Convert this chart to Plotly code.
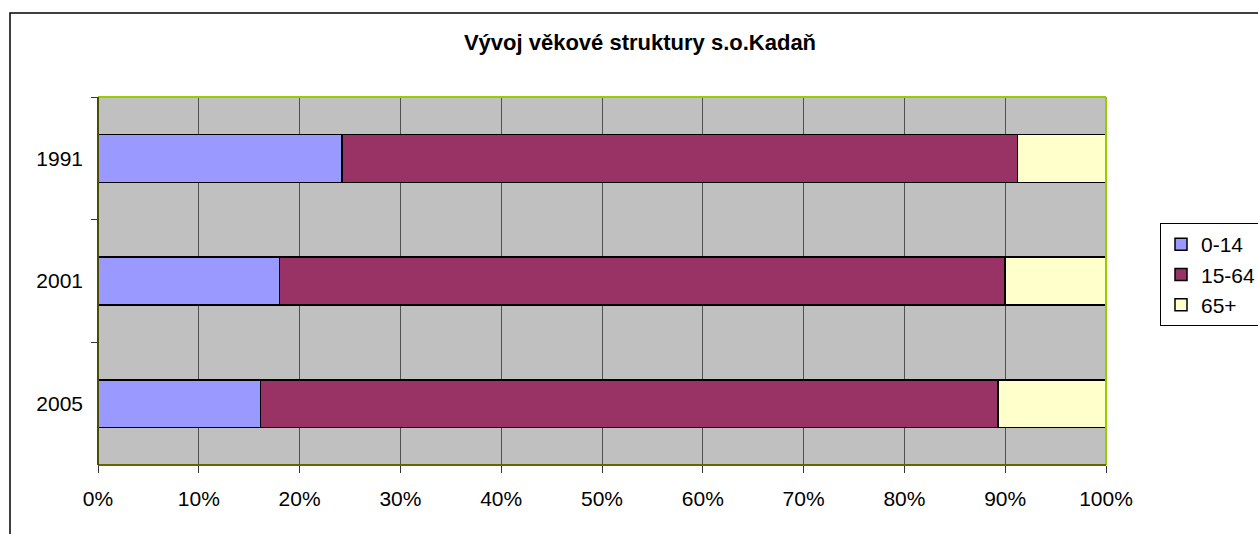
import plotly.graph_objects as go

years = ["1991", "2001", "2005"]
series_names = ["0-14", "15-64", "65+"]
v_0_14 = [24.2, 18.0, 16.1]
v_15_64 = [67.0, 72.0, 73.2]
v_65 = [8.8, 10.0, 10.7]
colors = ["#9999FF", "#993366", "#FFFFCC"]
x_ticks = [0, 10, 20, 30, 40, 50, 60, 70, 80, 90, 100]

FONT = "Liberation Sans, Arial, sans-serif"

fig = go.Figure()
for i, (name, vals) in enumerate(zip(series_names, [v_0_14, v_15_64, v_65])):
    fig.add_trace(go.Bar(
        y=years, x=vals, name=name, orientation="h",
        marker=dict(color=colors[i], line=dict(color="#000000", width=1.5)),
        legendgroup=name, hoverinfo="x+name",
    ))

W, H = 1258, 534
L, R, T, B = 98, 1106, 97, 465
pw, ph = R - L, B - T

def px_x(x):
    return (x - L) / pw

def px_y(y):
    return 1 - (y - T) / ph

fig.update_layout(
    width=W, height=H,
    margin=dict(l=L, r=W - R, t=T, b=H - B, pad=0, autoexpand=False),
    paper_bgcolor="#FFFFFF",
    plot_bgcolor="#C0C0C0",
    barmode="stack",
    bargap=0.61,
    font=dict(family=FONT, size=21, color="#000000"),
    title=dict(
        text="<b>Vývoj věkové struktury s.o.Kadaň</b>",
        x=640 / W, xref="container", xanchor="center",
        y=1 - 42 / H, yref="container", yanchor="middle",
        font=dict(family=FONT, size=22, color="#000000"),
    ),
    xaxis=dict(
        range=[0, 100], tickvals=x_ticks,
        ticktext=[f"{t}%" for t in x_ticks],
        showgrid=True, gridcolor="#505050", gridwidth=1,
        ticks="outside", ticklen=7, tickcolor="#333333",
        showline=False, zeroline=False,
        tickfont=dict(size=21),
        ticklabelstandoff=8,
    ),
    yaxis=dict(
        categoryorder="array", categoryarray=years, autorange="reversed",
        tickson="boundaries", ticks="outside", ticklen=6, tickcolor="#333333",
        showgrid=False, showline=False, zeroline=False,
        tickfont=dict(size=21),
        ticklabelstandoff=14,
    ),
    legend=dict(
        x=px_x(1160), y=px_y(223), xanchor="left", yanchor="top",
        bordercolor="#000000", borderwidth=1, bgcolor="#FFFFFF",
        traceorder="normal", tracegroupgap=24,
        font=dict(size=21),
    ),
    showlegend=True,
)

# plot area border (Excel style)
fig.add_shape(type="line", xref="paper", yref="paper", x0=0, x1=1, y0=1, y1=1,
              line=dict(color="#99CC00", width=2), layer="above")
fig.add_shape(type="line", xref="paper", yref="paper", x0=1, x1=1, y0=0, y1=1,
              line=dict(color="#99CC00", width=2), layer="above")
fig.add_shape(type="line", xref="paper", yref="paper", x0=0, x1=1, y0=0, y1=0,
              line=dict(color="#666600", width=2), layer="above")
fig.add_shape(type="line", xref="paper", yref="paper", x0=0, x1=0, y0=0, y1=1,
              line=dict(color="#4D4D00", width=2), layer="above")

# outer chart border
fig.add_shape(type="rect", xref="paper", yref="paper",
              x0=px_x(10), x1=px_x(1270), y0=px_y(560), y1=px_y(13),
              line=dict(color="#000000", width=1.5), fillcolor="rgba(0,0,0,0)",
              layer="above")

fig.write_html(
    "out.html",
    config={"displayModeBar": False},
    post_script="document.body.style.margin='0px';document.documentElement.style.overflow='hidden';document.body.style.overflow='hidden';",
)
